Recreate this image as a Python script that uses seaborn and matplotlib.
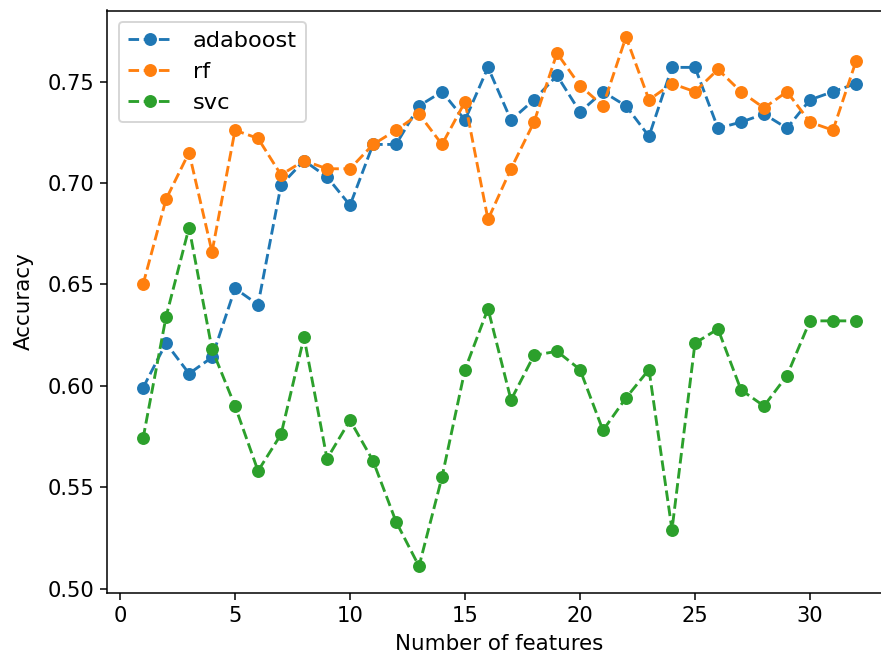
import matplotlib
matplotlib.use("Agg")
import matplotlib.pyplot as plt
import seaborn as sns
import pandas as pd

# Accuracy per number of selected features for three classifiers
n_features = list(range(1, 33))

adaboost = [0.599, 0.621, 0.606, 0.614, 0.648, 0.640, 0.699, 0.711,
            0.703, 0.689, 0.719, 0.719, 0.738, 0.745, 0.731, 0.757,
            0.731, 0.741, 0.753, 0.735, 0.745, 0.738, 0.723, 0.757,
            0.757, 0.727, 0.730, 0.734, 0.727, 0.741, 0.745, 0.749]

rf = [0.650, 0.692, 0.715, 0.666, 0.726, 0.722, 0.704, 0.711,
      0.707, 0.707, 0.719, 0.726, 0.734, 0.719, 0.740, 0.682,
      0.707, 0.730, 0.764, 0.748, 0.738, 0.772, 0.741, 0.749,
      0.745, 0.756, 0.745, 0.737, 0.745, 0.730, 0.726, 0.760]

svc = [0.574, 0.634, 0.678, 0.618, 0.590, 0.558, 0.576, 0.624,
       0.564, 0.583, 0.563, 0.533, 0.511, 0.555, 0.608, 0.638,
       0.593, 0.615, 0.617, 0.608, 0.578, 0.594, 0.608, 0.529,
       0.621, 0.628, 0.598, 0.590, 0.605, 0.632, 0.632, 0.632]

model_names = ["adaboost", "rf", "svc"]
series = [adaboost, rf, svc]
colors = ["#1f77b4", "#ff7f0e", "#2ca02c"]

plt.rcParams["font.family"] = ["DejaVu Sans"]
plt.rcParams["font.size"] = 11.2
plt.rcParams["xtick.labelsize"] = 11.0
plt.rcParams["ytick.labelsize"] = 11.0

dpi = 137.6
fig = plt.figure(figsize=(881 / dpi, 662 / dpi), dpi=dpi)
ax = fig.add_axes([107.4 / 881, 1 - 592.7 / 662, 784.2 / 881, 582.2 / 662])

for name, vals, col in zip(model_names, series, colors):
    df = pd.DataFrame({"Number of features": n_features, "Accuracy": vals})
    sns.lineplot(data=df, x="Number of features", y="Accuracy", ax=ax,
                 color=col, marker="o", markersize=6, markeredgecolor=col,
                 linestyle="--", linewidth=1.5, label=name)

ax.set_xlabel("Number of features")
ax.set_ylabel("Accuracy", labelpad=7)
ax.legend(loc="upper left", fontsize=11.8, handletextpad=0.9)

fig.savefig("out.png", dpi=dpi)
